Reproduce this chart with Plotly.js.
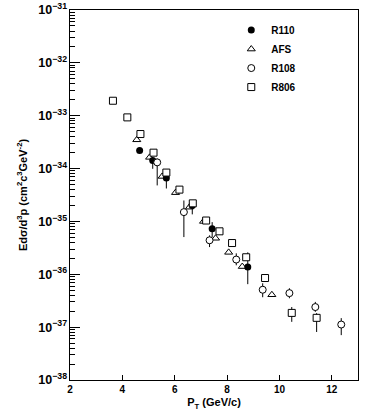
<!DOCTYPE html>
<html>
<head>
<meta charset="utf-8">
<script src="https://cdn.plot.ly/plotly-3.0.1.min.js"></script>
<style>html,body{margin:0;padding:0;background:#fff;}#chart{width:366px;height:415px;}</style>
</head>
<body>
<div id="chart"></div>
<script>
// R110 (filled circles)
var r110_x = [4.66, 5.16, 5.68, 6.67, 7.43, 8.79];
var r110_y = [2.2e-34, 1.42e-34, 6.6e-35, 2.0e-35, 7.3e-36, 1.37e-36];
var r110_hi = [2.2e-34, 1.5e-34, 6.6e-35, 2.0e-35, 9.7e-36, 2.6e-36];
var r110_lo = [2.2e-34, 9.9e-35, 4.2e-35, 1.36e-35, 5.06e-36, 6.5e-37];

// AFS (open triangles)
var afs_x = [4.55, 5.04, 5.52, 6.03, 6.56, 7.10, 7.56, 8.06, 8.58, 9.71];
var afs_y = [3.5e-34, 1.63e-34, 7.1e-35, 3.5e-35, 1.86e-35, 1.0e-35, 4.8e-36, 2.6e-36, 1.4e-36, 4.1e-37];

// R108 (open circles)
var r108_x = [5.33, 6.35, 7.33, 8.35, 9.36, 10.38, 11.37, 12.36];
var r108_y = [1.31e-34, 1.5e-35, 4.4e-36, 1.9e-36, 5.1e-37, 4.4e-37, 2.4e-37, 1.12e-37];
var r108_hi = [1.55e-34, 2.49e-35, 5.45e-36, 2.49e-36, 6.76e-37, 5.44e-37, 3.0e-37, 1.48e-37];
var r108_lo = [4.8e-35, 5.06e-36, 3.27e-36, 1.48e-36, 3.68e-37, 3.52e-37, 1.95e-37, 7.06e-38];

// R806 (open squares)
var r806_x = [3.64, 4.19, 4.69, 5.19, 5.68, 6.18, 6.69, 7.20, 7.71, 8.19, 8.73, 9.45, 10.47, 11.42];
var r806_y = [1.92e-33, 9.3e-34, 4.5e-34, 2.0e-34, 8.4e-35, 4.0e-35, 2.2e-35, 1.04e-35, 6.5e-36, 3.9e-36, 2.1e-36, 8.5e-37, 1.86e-37, 1.5e-37];
var r806_hi = [1.92e-33, 9.3e-34, 4.5e-34, 2.0e-34, 8.4e-35, 4.0e-35, 2.2e-35, 1.04e-35, 6.5e-36, 3.9e-36, 2.1e-36, 8.5e-37, 2.4e-37, 1.84e-37];
var r806_lo = [1.92e-33, 9.3e-34, 4.5e-34, 2.0e-34, 8.4e-35, 4.0e-35, 2.2e-35, 1.04e-35, 6.5e-36, 3.9e-36, 2.1e-36, 8.5e-37, 1.26e-37, 8.1e-38];

var xTickVals = [2, 4, 6, 8, 10, 12];

function errY(y, hi, lo) {
  return {
    type: 'data', symmetric: false,
    array: y.map(function (v, i) { return hi[i] - v; }),
    arrayminus: y.map(function (v, i) { return v - lo[i]; }),
    width: 0, thickness: 1, color: '#000'
  };
}

var traces = [
  {x: r110_x, y: r110_y, name: 'R110', type: 'scatter', mode: 'markers',
   marker: {symbol: 'circle', size: 7, color: '#000'},
   error_y: errY(r110_y, r110_hi, r110_lo)},
  {x: afs_x, y: afs_y, name: 'AFS', type: 'scatter', mode: 'markers',
   marker: {symbol: 'triangle-up-open', size: 7, color: '#000', line: {width: 1}}},
  {x: r108_x, y: r108_y, name: 'R108', type: 'scatter', mode: 'markers',
   marker: {symbol: 'circle', size: 7, color: '#fff', line: {width: 1, color: '#000'}},
   error_y: errY(r108_y, r108_hi, r108_lo)},
  {x: r806_x, y: r806_y, name: 'R806', type: 'scatter', mode: 'markers',
   marker: {symbol: 'square', size: 7, color: '#fff', line: {width: 1, color: '#000'}},
   error_y: errY(r806_y, r806_hi, r806_lo)}
];

var fnt = {family: 'Liberation Sans, Arial, sans-serif', size: 10, color: '#000', weight: 'bold'};

var layout = {
  width: 366, height: 415,
  margin: {l: 70, r: 8, t: 10, b: 35},
  paper_bgcolor: '#fff', plot_bgcolor: '#fff',
  font: fnt,
  showlegend: true,
  legend: {x: 0.56, y: 0.985, xanchor: 'left', yanchor: 'top', bgcolor: 'rgba(0,0,0,0)',
           font: {family: 'Liberation Sans, Arial, sans-serif', size: 10, weight: 'bold'},
           itemwidth: 30, tracegroupgap: 0},
  xaxis: {
    range: [2, 13], tickvals: xTickVals, ticktext: xTickVals.map(String),
    ticks: 'inside', ticklen: 5, tickcolor: '#000', tickwidth: 1,
    showgrid: false, zeroline: false, showline: true, linecolor: '#000', linewidth: 1, mirror: true,
    title: {text: 'P<sub>T</sub> (GeV/c)', font: {size: 11, weight: 'bold'}, standoff: 4},
    tickfont: fnt
  },
  yaxis: {
    type: 'log', range: [-38, -31], dtick: 1, exponentformat: 'power',
    ticks: 'inside', ticklen: 10, tickcolor: '#000', tickwidth: 1,
    minor: {ticks: 'inside', ticklen: 5, dtick: 'D1', tickcolor: '#000', showgrid: false},
    showgrid: false, zeroline: false, showline: true, linecolor: '#000', linewidth: 1, mirror: true,
    title: {text: 'Edσ/d<sup>3</sup>p (cm<sup>2</sup>c<sup>3</sup>GeV<sup>-2</sup>)', font: {size: 11, weight: 'bold'}, standoff: 8},
    tickfont: fnt
  }
};

Plotly.newPlot('chart', traces, layout, {displayModeBar: false, staticPlot: true});
</script>
</body>
</html>
